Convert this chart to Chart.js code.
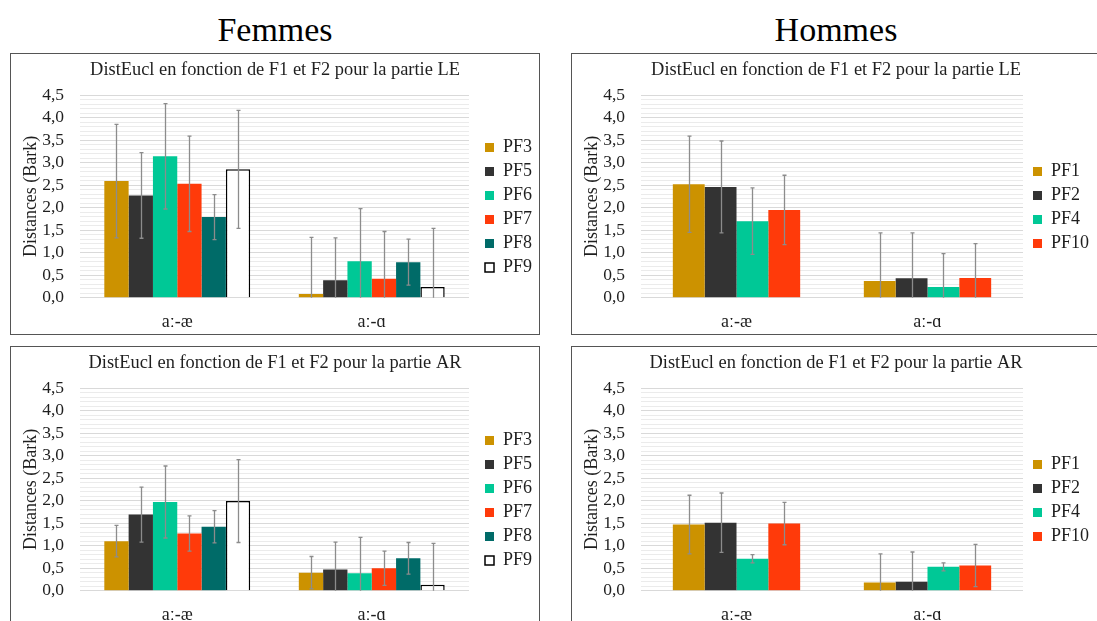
<!DOCTYPE html>
<html>
<head>
<meta charset="utf-8">
<script src="https://cdn.jsdelivr.net/npm/chart.js@4.4.1/dist/chart.umd.min.js"></script>
<style>
  html, body { margin: 0; padding: 0; background: #ffffff; width: 1097px; height: 621px; overflow: hidden; }
  .heading { position: absolute; top: 13px; width: 300px; text-align: center; font-family: 'Liberation Serif', 'Times New Roman', serif; font-size: 34px; line-height: 34px; color: #000; }
  .panel { position: absolute; width: 528px; height: 280px; border: 1px solid #555555; background: #fff; }
  .panel canvas { display: block; }
</style>
</head>
<body>
<div class="heading" style="left:125px">Femmes</div>
<div class="heading" style="left:686px">Hommes</div>
<div class="panel" style="left:10px;top:53px"><canvas id="c1" width="528" height="280"></canvas></div>
<div class="panel" style="left:571px;top:53px"><canvas id="c2" width="528" height="280"></canvas></div>
<div class="panel" style="left:10px;top:346px"><canvas id="c3" width="528" height="280"></canvas></div>
<div class="panel" style="left:571px;top:346px"><canvas id="c4" width="528" height="280"></canvas></div>
<script>
// ---------- data ----------
const categories = ['aː-æ', 'aː-ɑ'];
const femmesSeries = ['PF3', 'PF5', 'PF6', 'PF7', 'PF8', 'PF9'];
const hommesSeries = ['PF1', 'PF2', 'PF4', 'PF10'];
const yTickMax = 4.5;

// Femmes, partie LE (values per series: [aː-æ, aː-ɑ])
const femmesLEValues = [[2.59, 0.08], [2.27, 0.39], [3.14, 0.81], [2.53, 0.42], [1.79, 0.79], [2.85, 0.24]];
const femmesLEErrors = [[1.26, 1.26], [0.95, 0.94], [1.17, 1.17], [1.06, 1.05], [0.50, 0.51], [1.31, 1.30]];
// Hommes, partie LE
const hommesLEValues = [[2.52, 0.37], [2.46, 0.43], [1.70, 0.24], [1.95, 0.44]];
const hommesLEErrors = [[1.07, 1.07], [1.02, 1.01], [0.74, 0.74], [0.77, 0.76]];
// Femmes, partie AR
const femmesARValues = [[1.10, 0.40], [1.69, 0.47], [1.97, 0.385], [1.27, 0.50], [1.42, 0.72], [1.99, 0.13]];
const femmesARErrors = [[0.35, 0.36], [0.61, 0.61], [0.80, 0.80], [0.39, 0.38], [0.36, 0.35], [0.92, 0.92]];
// Hommes, partie AR
const hommesARValues = [[1.47, 0.18], [1.51, 0.20], [0.71, 0.53], [1.49, 0.56]];
const hommesARErrors = [[0.65, 0.64], [0.66, 0.66], [0.09, 0.09], [0.47, 0.47]];

const seriesColors = {
  PF1: '#CC9200', PF3: '#CC9200',
  PF2: '#333333', PF5: '#333333',
  PF4: '#00C896', PF6: '#00C896',
  PF7: '#FF3A0A', PF10: '#FF3A0A',
  PF8: '#006B68',
  PF9: '#FFFFFF'
};

// ---------- styling ----------
const SERIF = "'Liberation Serif', 'Times New Roman', serif";
const TEXT = '#1F1F1F';
Chart.defaults.font.family = SERIF;
Chart.defaults.color = TEXT;

const errorBarPlugin = {
  id: 'errorBars',
  afterDatasetsDraw(chart) {
    const { ctx, chartArea, scales } = chart;
    const y = scales.y;
    ctx.save();
    ctx.beginPath();
    ctx.rect(chartArea.left, chartArea.top - 2, chartArea.right - chartArea.left, chartArea.bottom - chartArea.top + 2);
    ctx.clip();
    ctx.strokeStyle = '#8C8C8C';
    ctx.lineWidth = 1.3;
    chart.data.datasets.forEach((ds, i) => {
      const meta = chart.getDatasetMeta(i);
      meta.data.forEach((bar, j) => {
        const v = ds.data[j], e = ds.errors[j];
        const x = Math.round(bar.x) + 0.5;
        const yt = y.getPixelForValue(v + e);
        const yb = y.getPixelForValue(v - e);
        ctx.beginPath();
        ctx.moveTo(x, yt); ctx.lineTo(x, yb);
        ctx.moveTo(x - 2, yt); ctx.lineTo(x + 2, yt);
        ctx.moveTo(x - 2, yb); ctx.lineTo(x + 2, yb);
        ctx.stroke();
      });
    });
    ctx.restore();
  }
};

const legendPlace = {
  id: 'legendPlace',
  beforeLayout(chart, args, opts) {
    const lg = chart.legend;
    if (lg && !lg._fixed) {
      const orig = lg.fit;
      lg.fit = function () { orig.call(this); this.width = opts.width; };
      lg._fixed = true;
    }
  },
  afterLayout(chart, args, opts) {
    const lg = chart.legend;
    const pad = lg.options.labels.padding;
    const n = chart.data.datasets.length;
    const itemH = 18;
    const colH = n * (itemH + pad);
    const y0 = opts.centerY - itemH / 2 - (n - 1) * (itemH + pad) / 2;
    const sum = 2 * y0 - pad + colH;
    lg.top = 0; lg.bottom = sum;
    lg.left = opts.boxX - pad; lg.right = lg.left + opts.width;
  }
};

function isMajor(v) { return Math.abs(v * 2 - Math.round(v * 2)) < 1e-6; }

function makeChart(id, titleText, seriesNames, values, errors, legendWidth, legendBoxX) {
  const n = seriesNames.length;
  const datasets = seriesNames.map((name, i) => ({
    label: name,
    data: values[i],
    errors: errors[i],
    backgroundColor: seriesColors[name],
    borderColor: name === 'PF9' ? '#000000' : seriesColors[name],
    borderWidth: name === 'PF9' ? 1.5 : 0,
    categoryPercentage: n / (n + 2),
    barPercentage: 1
  }));
  return new Chart(document.getElementById(id), {
    type: 'bar',
    data: { labels: categories, datasets },
    plugins: [errorBarPlugin, legendPlace],
    options: {
      responsive: false,
      animation: false,
      events: [],
      layout: { padding: 0 },
      plugins: {
        title: {
          display: true, text: titleText, color: TEXT,
          font: { family: SERIF, size: 18.4, weight: 'normal' },
          padding: { top: 5, bottom: 14 }
        },
        legend: {
          position: 'right', align: 'center',
          labels: { font: { family: SERIF, size: 18 }, color: TEXT, boxWidth: 9, boxHeight: 9, padding: 6 }
        },
        tooltip: { enabled: false },
        legendPlace: { width: legendWidth, boxX: legendBoxX, centerY: 153.5 }
      },
      scales: {
        x: {
          grid: { display: false },
          border: { display: false },
          ticks: { font: { family: SERIF, size: 18 }, color: TEXT, padding: 6 },
          afterFit(s) { s.height = 36.3; }
        },
        y: {
          min: 0, max: yTickMax,
          border: { display: false },
          grid: {
            drawTicks: false,
            color: (c) => isMajor(c.tick.value) ? '#D9D9D9' : '#EBEBEB',
            lineWidth: 1
          },
          ticks: {
            stepSize: 0.1, maxTicksLimit: 100, autoSkip: false, padding: 16,
            font: { family: SERIF, size: 17.5 }, color: TEXT,
            callback: (v) => isMajor(v) ? v.toFixed(1).replace('.', ',') : ''
          },
          title: {
            display: true, text: 'Distances (Bark)', color: TEXT,
            font: { family: SERIF, size: 18 }, padding: { top: 9, bottom: 0 }
          },
          afterFit(s) { s.width = 69; }
        }
      }
    }
  });
}

makeChart('c1', 'DistEucl en fonction de F1 et F2 pour la partie LE', femmesSeries, femmesLEValues, femmesLEErrors, 70, 474);
makeChart('c2', 'DistEucl en fonction de F1 et F2 pour la partie LE', hommesSeries, hommesLEValues, hommesLEErrors, 77, 461);
makeChart('c3', 'DistEucl en fonction de F1 et F2 pour la partie AR', femmesSeries, femmesARValues, femmesARErrors, 70, 474);
makeChart('c4', 'DistEucl en fonction de F1 et F2 pour la partie AR', hommesSeries, hommesARValues, hommesARErrors, 77, 461);
</script>
</body>
</html>
